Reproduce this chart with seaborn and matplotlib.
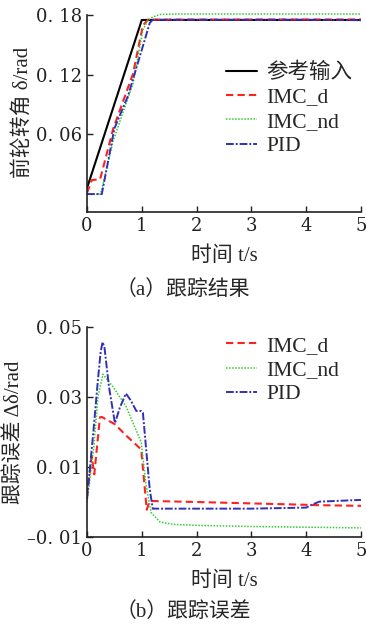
import numpy as np
import pandas as pd
import matplotlib
matplotlib.use('Agg')
import matplotlib.pyplot as plt
import seaborn as sns

# (a) tracking result
ref_t = [0, 1.0, 5]
ref_v = [0.006, 0.175, 0.175]
imcd_t = [0, 0.085, 0.24, 0.48, 0.84, 1.02, 1.115, 5]
imcd_v = [0.001, 0.014, 0.015, 0.066, 0.121, 0.1696, 0.1753, 0.1755]
imcnd_t = [0, 0.25, 0.48, 0.84, 1.02, 1.115, 1.2, 1.33, 1.6, 5]
imcnd_v = [0.0, 0.0, 0.054, 0.111, 0.165, 0.175, 0.178, 0.1805, 0.181, 0.181]
pid_t = [0, 0.27, 0.5, 0.75, 1.0, 1.145, 1.2, 4.0, 4.25, 5]
pid_v = [0.0, 0.0, 0.066, 0.099, 0.145, 0.172, 0.1752, 0.1752, 0.175, 0.1748]

# (b) tracking error
err_d_t = [0, 0.085, 0.133, 0.236, 0.27, 0.51, 0.72, 0.99, 1.05, 1.09, 1.145, 2, 3, 4, 4.2, 5]
err_d_v = [0.0017, 0.0131, 0.0079, 0.0242, 0.0243, 0.0222, 0.0189, 0.015, 0.0046,
           -0.0022, 0.0003, 0.0, -0.0004, -0.0008, -0.0009, -0.0011]
err_nd_t = [0, 0.12, 0.2, 0.29, 0.47, 0.71, 0.99, 1.08, 1.17, 1.33, 1.57, 2.06, 3, 4, 5]
err_nd_v = [0.0, 0.015, 0.030, 0.0365, 0.033, 0.0274, 0.017, 0.0046, -0.003, -0.0057,
            -0.0064, -0.0067, -0.0070, -0.0072, -0.0074]
err_pid_t = [0, 0.115, 0.2, 0.25, 0.285, 0.32, 0.4, 0.51, 0.6, 0.71, 0.8, 0.9, 0.99,
             1.02, 1.08, 1.145, 1.2, 2, 3, 4.0, 4.1, 4.24, 5]
err_pid_v = [0.0008, 0.0199, 0.035, 0.043, 0.0457, 0.044, 0.033, 0.0225, 0.027, 0.031,
             0.029, 0.026, 0.026, 0.0255, 0.015, 0.0036, -0.0019, -0.0019, -0.0019,
             -0.0016, -0.0008, 0.0001, 0.0006]

top_ticks = [0.06, 0.12, 0.18]
top_ticklabels = ['0. 06', '0. 12', '0. 18']
bot_ticks = [-0.01, 0.01, 0.03, 0.05]
bot_ticklabels = ['\u20130. 01', '0. 01', '0. 03', '0. 05']
x_ticks = [0, 1, 2, 3, 4, 5]

sns.set_theme(style='ticks')
plt.rcParams['font.family'] = ['Liberation Serif', 'Noto Sans CJK SC']
plt.rcParams['xtick.direction'] = 'in'
plt.rcParams['ytick.direction'] = 'in'

styles = {
    '参考输入': dict(color='black', linestyle='-', linewidth=1.5),
    'IMC_d': dict(color='#ff2020', linestyle=(0, (3.5, 2)), linewidth=1.5),
    'IMC_nd': dict(color='#33cc33', linestyle=(0, (1, 1)), linewidth=1.1),
    'PID': dict(color='#3030b8', linestyle=(0, (4, 1, 1, 1)), linewidth=1.4),
}

fig = plt.figure(figsize=(3.66, 6.26), dpi=100)
ax1 = fig.add_axes([87 / 366, 1 - 212 / 626, 274 / 366, 200 / 626])
ax2 = fig.add_axes([87 / 366, 1 - 537 / 626, 274 / 366, 210 / 626])

top_series = [('参考输入', ref_t, ref_v), ('IMC_d', imcd_t, imcd_v),
              ('IMC_nd', imcnd_t, imcnd_v), ('PID', pid_t, pid_v)]
for name, t, v in top_series:
    df = pd.DataFrame({'t': t, 'v': v})
    sns.lineplot(data=df, x='t', y='v', ax=ax1, label=name, **styles[name])

bot_series = [('IMC_d', err_d_t, err_d_v), ('IMC_nd', err_nd_t, err_nd_v),
              ('PID', err_pid_t, err_pid_v)]
for name, t, v in bot_series:
    df = pd.DataFrame({'t': t, 'v': v})
    sns.lineplot(data=df, x='t', y='v', ax=ax2, label=name, **styles[name])

for ax in (ax1, ax2):
    sns.despine(ax=ax)
    ax.set_xlim(0, 5)
    ax.set_xticks(x_ticks)
    ax.set_xticklabels([str(x) for x in x_ticks], family='DejaVu Serif')
    ax.tick_params(labelsize=13, length=4, width=1, colors='#222222')
    for s in ax.spines.values():
        s.set_linewidth(1.2)
        s.set_color('#222222')
    ax.set_xlabel('时间 t/s', fontsize=15, labelpad=8)

ax1.set_ylim(-0.018, 0.183)
ax1.spines['left'].set_bounds(-0.018, 0.18)
ax1.set_yticks(top_ticks)
ax1.set_yticklabels(top_ticklabels, family='DejaVu Serif')
ax1.set_ylabel('前轮转角 δ/rad', fontsize=15, labelpad=2)
ax1.legend(loc='upper left', bbox_to_anchor=(0.467, 0.8), frameon=False, fontsize=15.5,
           handlelength=1.45, handletextpad=0.45, labelspacing=0.2, borderpad=0)

ax2.set_ylim(-0.01, 0.05)
ax2.set_yticks(bot_ticks)
ax2.set_yticklabels(bot_ticklabels, family='DejaVu Serif')
ax2.set_ylabel('跟踪误差 Δδ/rad', fontsize=15, labelpad=2)
ax2.legend(loc='upper left', bbox_to_anchor=(0.467, 1.01), frameon=False, fontsize=15.5,
           handlelength=1.45, handletextpad=0.45, labelspacing=0.2, borderpad=0)

fig.text(0.5, 1 - 290 / 626, '（a）跟踪结果', ha='center', va='center', fontsize=15)
fig.text(0.5, 1 - 612 / 626, '（b）跟踪误差', ha='center', va='center', fontsize=15)

fig.savefig('out.png', dpi=100)
